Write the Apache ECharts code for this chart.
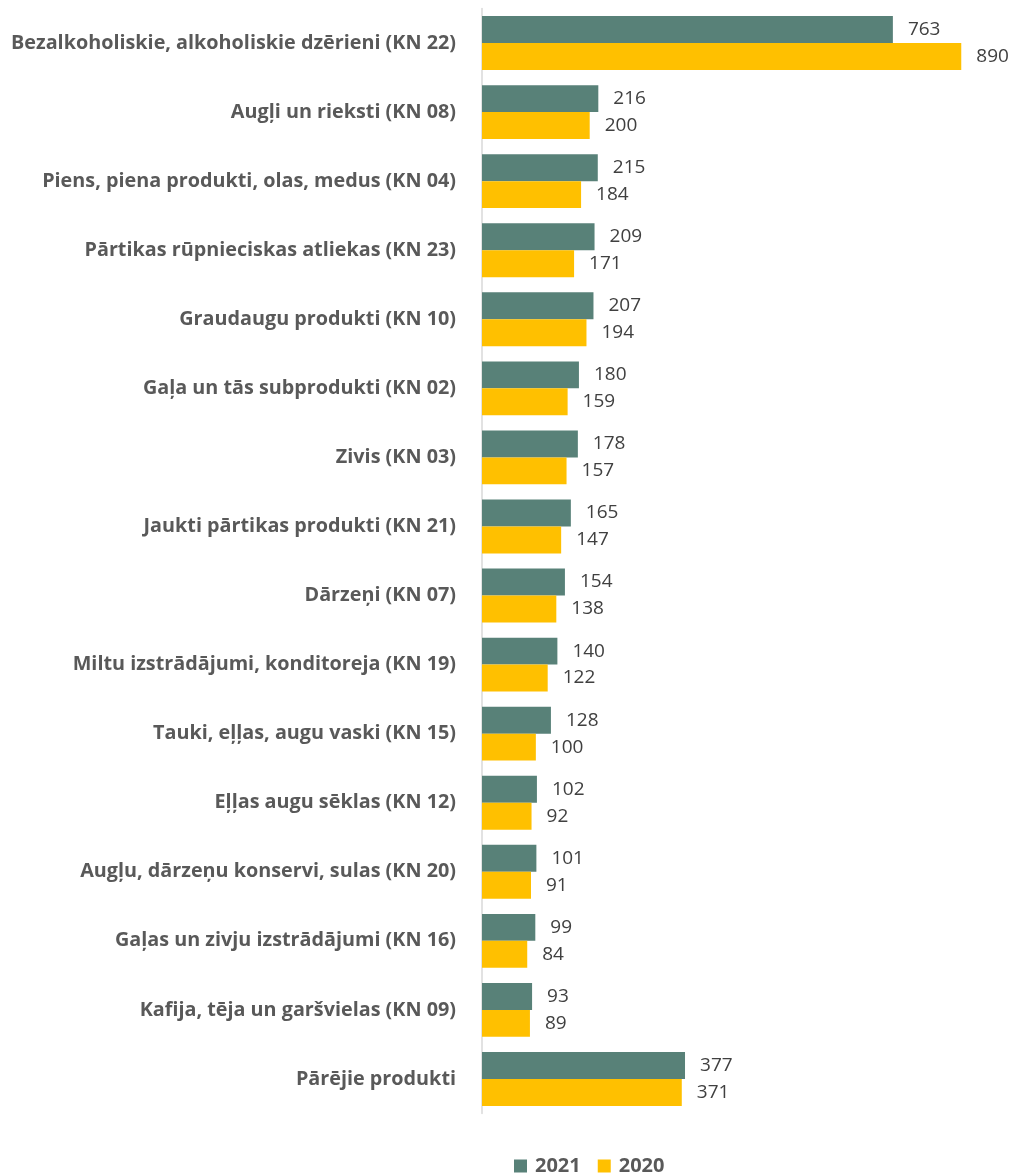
<!DOCTYPE html>
<html>
<head>
<meta charset="utf-8">
<script src="https://cdn.jsdelivr.net/npm/echarts@6/dist/echarts.min.js"></script>
<style>html,body{margin:0;padding:0;background:#fff}#c{width:1019px;height:1175px}</style>
</head>
<body>
<div id="c"></div>
<script>
var categories = [
  "Bezalkoholiskie, alkoholiskie dzērieni (KN 22)",
  "Augļi un rieksti (KN 08)",
  "Piens, piena produkti, olas, medus (KN 04)",
  "Pārtikas rūpnieciskas atliekas (KN 23)",
  "Graudaugu produkti (KN 10)",
  "Gaļa un tās subprodukti (KN 02)",
  "Zivis (KN 03)",
  "Jaukti pārtikas produkti (KN 21)",
  "Dārzeņi (KN 07)",
  "Miltu izstrādājumi, konditoreja (KN 19)",
  "Tauki, eļļas, augu vaski (KN 15)",
  "Eļļas augu sēklas (KN 12)",
  "Augļu, dārzeņu konservi, sulas (KN 20)",
  "Gaļas un zivju izstrādājumi (KN 16)",
  "Kafija, tēja un garšvielas (KN 09)",
  "Pārējie produkti"
];
var values2021 = [763, 216, 215, 209, 207, 180, 178, 165, 154, 140, 128, 102, 101, 99, 93, 377];
var values2020 = [890, 200, 184, 171, 194, 159, 157, 147, 138, 122, 100, 92, 91, 84, 89, 371];
var seriesNames = ["2021", "2020"];

var chart = echarts.init(document.getElementById('c'));
var labelStyle = {
  show: true, position: 'right', distance: 15,
  color: '#404040', fontFamily: 'Open Sans', fontSize: 19
};
chart.setOption({
  animation: false,
  grid: { left: 482, top: 8.5, width: 900 * 0.5385, height: 1105 },
  legend: {
    left: 514, top: 1156, padding: 0,
    icon: 'rect', itemWidth: 13, itemHeight: 13, itemGap: 17,
    textStyle: { color: '#595959', fontFamily: 'Open Sans', fontWeight: 'bold', fontSize: 20, padding: [0, 0, 0, 3] },
    data: seriesNames
  },
  xAxis: {
    type: 'value', min: 0, max: 900,
    show: false
  },
  yAxis: {
    type: 'category', inverse: true, data: categories,
    axisLine: { show: true, lineStyle: { color: '#d9d9d9', width: 1.5 } },
    axisTick: { show: false },
    axisLabel: { margin: 26, color: '#595959', fontFamily: 'Open Sans', fontWeight: 'bold', fontSize: 19.8 }
  },
  series: [
    { name: seriesNames[0], type: 'bar', data: values2021, barGap: '0%', barCategoryGap: '22%',
      itemStyle: { color: '#588178' }, label: labelStyle },
    { name: seriesNames[1], type: 'bar', data: values2020, barGap: '0%', barCategoryGap: '22%',
      itemStyle: { color: '#FFC000' }, label: labelStyle }
  ]
});
</script>
</body>
</html>
